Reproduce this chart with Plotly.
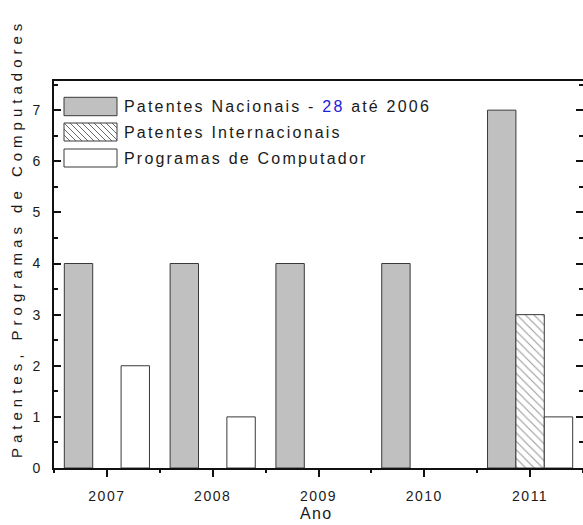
import plotly.graph_objects as go

# ---- data ----
years = [2007, 2008, 2009, 2010, 2011]
patentes_nacionais = [4, 4, 4, 4, 7]
patentes_internacionais = [0, 0, 0, 0, 3]
programas_computador = [2, 1, 0, 0, 1]
y_ticks = [0, 1, 2, 3, 4, 5, 6, 7]
series_names = ["Patentes Nacionais - 28 até 2006", "Patentes Internacionais", "Programas de Computador"]

W, H = 583, 525
L, R, T, B = 54, 0, 81, 57
PW, PH = W - L - R, H - T - B
FONT = "Arial, 'Liberation Sans', sans-serif"


def hide_zero(vals):
    return [v if v != 0 else None for v in vals]


def px2paper(x, y):
    return (x - L) / PW, (H - B - y) / PH


def ls(text, sp):
    return f'<span style="letter-spacing:{sp}px">{text}</span>'


fig = go.Figure()
edge = dict(color="#3a3a3a", width=1)
fig.add_trace(go.Bar(x=years, y=hide_zero(patentes_nacionais), name=series_names[0],
                     marker=dict(color="#c0c0c0", line=edge)))
fig.add_trace(go.Bar(x=years, y=hide_zero(patentes_internacionais), name=series_names[1],
                     marker=dict(color="white", line=edge,
                                 pattern=dict(shape="\\", fgcolor="#333333", bgcolor="white",
                                              size=6, solidity=0.18))))
fig.add_trace(go.Bar(x=years, y=hide_zero(programas_computador), name=series_names[2],
                     marker=dict(color="white", line=edge)))

# ---- manual legend ----
shapes = []
annotations = []
rows = [(97.3, 115.7), (123.0, 141.0), (149.0, 167.0)]
fills = ["#c0c0c0", "white", "white"]
x0p, x1p = 64.0, 117.0
for i, (ya, yb) in enumerate(rows):
    ax0, ay1 = px2paper(x0p, ya)
    ax1, ay0 = px2paper(x1p, yb)
    shapes.append(dict(type="rect", xref="paper", yref="paper", x0=ax0, x1=ax1, y0=ay0, y1=ay1,
                       fillcolor=fills[i], line=dict(color="#3a3a3a", width=1), layer="above"))
    if i == 1:
        h = yb - ya
        path = ""
        c = x0p - h
        while c < x1p:
            sx = max(c, x0p)
            ex = min(c + h, x1p)
            if ex > sx:
                p0 = px2paper(sx, ya + (sx - c))
                p1 = px2paper(ex, ya + (ex - c))
                path += f"M{p0[0]},{p0[1]} L{p1[0]},{p1[1]} "
            c += 6
        shapes.append(dict(type="path", xref="paper", yref="paper", path=path,
                           line=dict(color="#444444", width=0.8), layer="above"))
    tx, ty = px2paper(122, (ya + yb) / 2)
    label = series_names[i]
    if i == 0:
        label = label.replace("28", '<span style="color:#2020d8">28</span>')
    annotations.append(dict(text=ls(label, 2.2), xref="paper", yref="paper", x=tx, y=ty,
                            xanchor="left", yanchor="middle", showarrow=False,
                            font=dict(family=FONT, size=16, color="#1a1a1a")))

# y-axis title (off-centre, as in the original)
yx, yy = px2paper(16.5, 460)
annotations.append(dict(text=ls("Patentes, Programas de Computadores", 5.0), xref="paper", yref="paper",
                        x=yx, y=yy, xanchor="center", yanchor="bottom", textangle=-90,
                        showarrow=False, font=dict(family=FONT, size=15, color="#1a1a1a")))

# x-axis title
ax_, ay_ = px2paper(316, 513)
annotations.append(dict(text=ls("Ano", 1.3), xref="paper", yref="paper", x=ax_, y=ay_,
                        xanchor="center", yanchor="middle", showarrow=False,
                        font=dict(family=FONT, size=16, color="#1a1a1a")))

fig.update_layout(
    width=W, height=H,
    margin=dict(l=L, r=R, t=T, b=B, pad=0, autoexpand=False),
    paper_bgcolor="white", plot_bgcolor="white",
    barmode="group", bargap=0.195, bargroupgap=0,
    showlegend=False,
    shapes=shapes, annotations=annotations,
    font=dict(family=FONT, color="#1a1a1a"),
)
fig.update_xaxes(
    range=[2006.5, 2011.5], tickmode="array", tickvals=years,
    ticktext=[ls(str(y), 1.5) for y in years],
    ticks="outside", ticklen=7, tickwidth=1.5, tickcolor="#111",
    minor=dict(dtick=0.5, tick0=2006.5, ticks="outside", ticklen=3, tickwidth=1.5, tickcolor="#111"),
    showline=True, linecolor="#111", linewidth=2, mirror=True,
    showgrid=False, zeroline=False, automargin=False,
    tickfont=dict(family=FONT, size=14, color="#1a1a1a"), ticklabelstandoff=7,
)
fig.update_yaxes(
    range=[0, 7.57], tickmode="array", tickvals=y_ticks, ticktext=[str(v) for v in y_ticks],
    ticks="inside", ticklen=7, tickwidth=1.5, tickcolor="#111",
    minor=dict(dtick=0.5, ticks="inside", ticklen=4, tickwidth=1.5, tickcolor="#111"),
    showline=True, linecolor="#111", linewidth=2, mirror="ticks",
    showgrid=False, zeroline=False, automargin=False,
    tickfont=dict(family=FONT, size=14, color="#1a1a1a"), ticklabelstandoff=9,
)

fig.write_html("out.html", config={"displayModeBar": False},
               post_script="document.body.style.margin='0';")
